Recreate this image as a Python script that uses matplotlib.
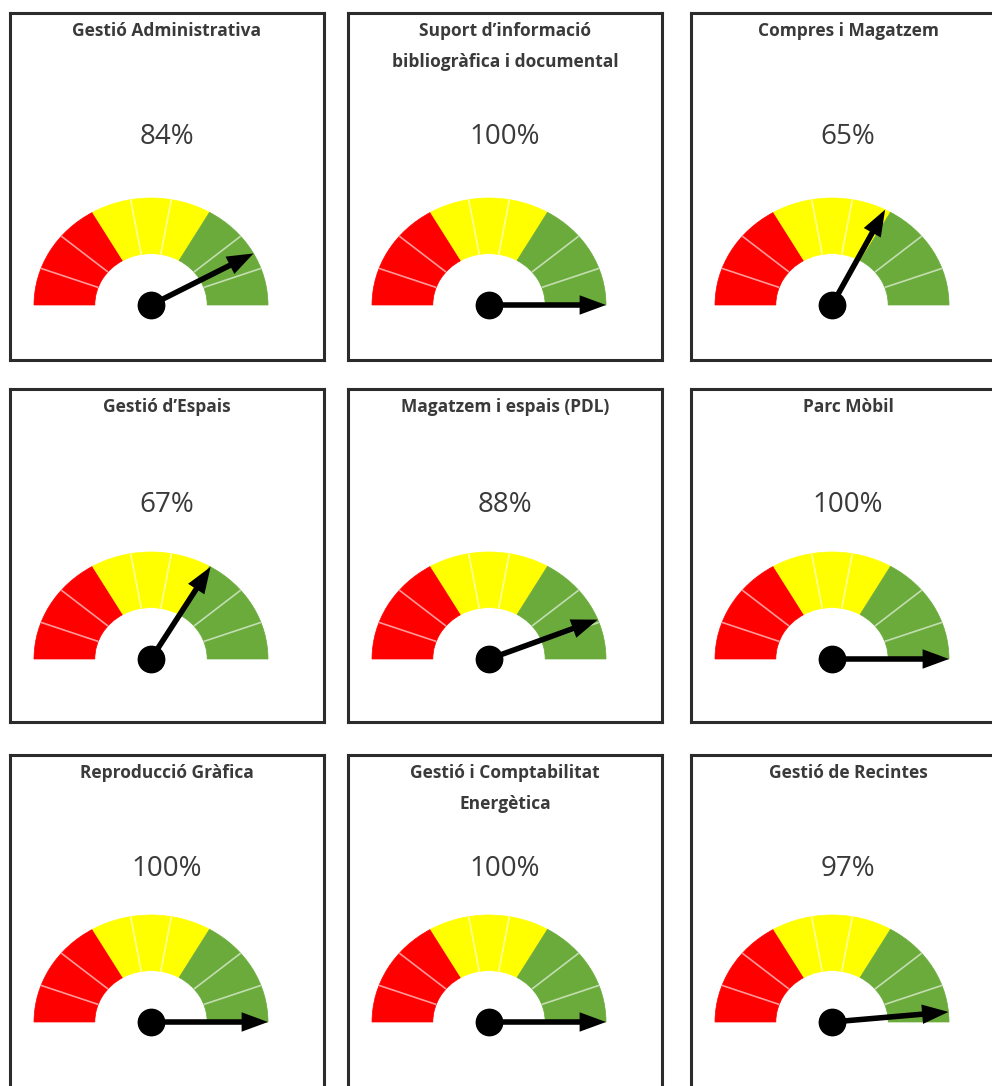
import numpy as np
import matplotlib
matplotlib.use("Agg")
import matplotlib.pyplot as plt
from matplotlib.patches import Wedge, FancyArrowPatch

# panel titles and gauge values (percent), row by row
titles = [
    "Gestió Administrativa",
    "Suport d’informació\nbibliogràfica i documental",
    "Compres i Magatzem",
    "Gestió d’Espais",
    "Magatzem i espais (PDL)",
    "Parc Mòbil",
    "Reproducció Gràfica",
    "Gestió i Comptabilitat\nEnergètica",
    "Gestió de Recintes",
]
values = [84, 100, 65, 67, 88, 100, 100, 100, 97]

# gauge bands: red / yellow / green, each split in 3 steps
band_colors = ["#FF0000", "#FFFF00", "#6AAB3C"]
steps_per_band = 3

W, H = 992, 1086
DPI = 100

# layout in pixels
box_lefts = [10, 348, 691]
box_width = 314
box_tops = [13, 389, 755]
box_heights = [347, 333, 345]
gauge_dx = 141
gauge_dy = [292, 270, 267]
pct_dy = [124, 116, 114]
title_dy = 9
RX, RY = 117, 107


def draw_gauge(ax, value):
    n = len(band_colors) * steps_per_band
    step = 180 / n
    for i, c in enumerate(band_colors):
        t1 = 180 - (i + 1) * steps_per_band * step
        t2 = 180 - i * steps_per_band * step
        ax.add_patch(Wedge((0, 0), 1.0, t1, t2, width=0.52, facecolor=c,
                           edgecolor=c, lw=0.5))
    # thin white dividers inside each band
    for k in range(1, n):
        if k % steps_per_band == 0:
            continue
        a = np.radians(180 - k * step)
        ax.plot([0.48 * np.cos(a), 1.0 * np.cos(a)],
                [0.48 * np.sin(a), 1.0 * np.sin(a)],
                color="white", lw=1.2, alpha=0.6, solid_capstyle="butt")
    # needle
    a = np.radians(180 - value / 100 * 180)
    tip = (np.cos(a), np.sin(a))
    arrow = FancyArrowPatch((0, 0), tip,
                            arrowstyle="simple,head_length=1.9,head_width=1.4,tail_width=0.4",
                            mutation_scale=10, color="black", lw=0,
                            shrinkA=0, shrinkB=0, zorder=5)
    ax.add_patch(arrow)
    ax.plot(0, 0, "o", color="black", ms=19, zorder=6)


fig = plt.figure(figsize=(W / DPI, H / DPI), dpi=DPI)
fig.patch.set_facecolor("white")

for idx, (title, val) in enumerate(zip(titles, values)):
    r, c = divmod(idx, 3)
    L, T, Hb = box_lefts[c], box_tops[r], box_heights[r]
    ax = fig.add_axes([L / W, 1 - (T + Hb) / H, box_width / W, Hb / H])
    ax.set_xlim(-gauge_dx / RX, (box_width - gauge_dx) / RX)
    ax.set_ylim(-(Hb - gauge_dy[r]) / RY, gauge_dy[r] / RY)
    ax.set_xticks([])
    ax.set_yticks([])
    for s in ax.spines.values():
        s.set_linewidth(2.2)
        s.set_color("#2b2b2b")
    draw_gauge(ax, val)

    cx = L + box_width / 2
    fig.text(cx / W, 1 - (T + title_dy) / H, title, ha="center", va="top",
             fontsize=12.5, fontweight="bold", color="#3a3a3a",
             family="Open Sans", linespacing=1.9)
    fig.text(cx / W, 1 - (T + pct_dy[r]) / H, f"{val}%", ha="center",
             va="center", fontsize=20, color="#3a3a3a", family="Open Sans")

fig.savefig("out.png", dpi=DPI, facecolor="white")
